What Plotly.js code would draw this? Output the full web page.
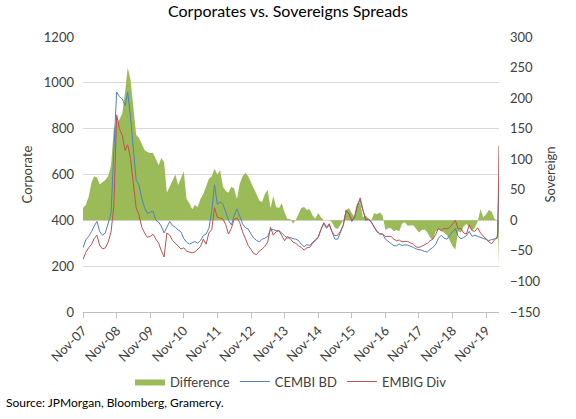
<!DOCTYPE html>
<html>
<head>
<meta charset="utf-8">
<script src="https://cdn.plot.ly/plotly-3.0.1.min.js"></script>
<style>html,body{margin:0;padding:0;background:#fff;}#chart{width:576px;height:419px;}</style>
</head>
<body>
<div id="chart"></div>
<script>
// Monthly readings from Nov-07 (first of month) through Mar-20, then daily tail of the Mar-2020 spike
const startYear = 2007, startMonth = 11;
const tailDates = ['2020-03-06', '2020-03-12', '2020-03-16', '2020-03-18', '2020-03-20'];

// CEMBI BD (left axis, Corporate)
const cembi = [
  280, 315, 330, 350, 375, 395, 350, 335, 345, 385,
  430, 700, 960, 940, 930, 900, 960, 850, 720, 575,
  555, 495, 455, 430, 435, 440, 400, 392, 375, 345,
  370, 395, 378, 370, 358, 350, 320, 305, 296, 302,
  308, 300, 312, 333, 340, 365, 440, 555, 470, 480,
  470, 435, 400, 380, 420, 450, 420, 385, 368, 362,
  340, 322, 312, 306, 318, 322, 330, 360, 360, 355,
  355, 342, 333, 322, 325, 320, 318, 312, 296, 285,
  294, 290, 305, 315, 326, 360, 385, 365, 380, 345,
  318, 318, 345, 378, 440, 430, 400, 415, 470, 488,
  445, 400, 405, 395, 370, 350, 342, 340, 318, 308,
  300, 289, 289, 296, 290, 293, 292, 288, 282, 275,
  274, 270, 264, 262, 273, 282, 295, 322, 335, 322,
  318, 333, 352, 365, 330, 320, 325, 333, 352, 330,
  335, 330, 325, 322, 318, 312, 316, 320, 322,
  345, 420, 500, 540, 470
];

// EMBIG Div (left axis, Corporate)
const embig = [
  229, 260, 280, 295, 320, 335, 290, 275, 280, 305,
  350, 460, 860, 800, 770, 705, 730, 670, 560, 455,
  425, 370, 345, 326, 330, 339, 318, 300, 268, 240,
  345, 335, 312, 300, 290, 275, 280, 265, 262, 258,
  262, 275, 285, 318, 296, 345, 360, 455, 413, 410,
  406, 380, 340, 365, 405, 410, 390, 350, 315, 290,
  272, 255, 250, 267, 274, 287, 305, 370, 335, 350,
  355, 333, 311, 330, 320, 304, 300, 289, 282, 270,
  280, 282, 300, 311, 326, 360, 390, 370, 385, 350,
  333, 335, 352, 380, 445, 428, 395, 412, 462, 498,
  445, 405, 404, 391, 370, 352, 340, 340, 330, 330,
  330, 318, 311, 314, 306, 308, 308, 302, 296, 284,
  282, 287, 292, 300, 311, 318, 338, 365, 355, 365,
  362, 369, 384, 400, 362, 365, 345, 340, 380, 355,
  352, 367, 345, 330, 318, 306, 298, 315, 330,
  360, 450, 580, 680, 725
];

// Difference (right axis, Sovereign)
const difference = [
  20, 25, 38, 62, 72, 70, 59, 62, 66, 72,
  90, 150, 160, 165, 175, 210, 250, 230, 180, 140,
  135, 125, 115, 112, 110, 110, 100, 90, 102, 95,
  45, 55, 65, 75, 58, 68, 80, 35, 28, 18,
  25, 22, 35, 43, 54, 68, 72, 84, 75, 82,
  55, 48, 45, 55, 52, 35, 60, 72, 78, 72,
  62, 52, 42, 32, 30, 43, 50, 20, 40, 22,
  20, 28, 13, 2, 2, -5, 0, 10, 20, 22,
  17, 18, 8, 3, 12, 5, 0, 0, 0, -3,
  -12, -14, -8, 0, 17, 20, 12, 5, 25, 30,
  5, 8, 3, 0, 12, 10, 13, 8, -16, -13,
  -13, -18, -16, -18, -5, -3, -9, -9, -8, -14,
  -20, -16, -15, -20, -28, -32, -18, -15, -17, -20,
  -24, -33, -42, -48, -18, -20, -10, -6, -11, -17,
  -12, -2, 18, 5, 10, 17, 14, 2, 0,
  -8, -25, -50, -70, -75
];

const nMonthly = cembi.length - tailDates.length;
const dates = [];
for (let i = 0; i < nMonthly; i++) {
  const t = (startMonth - 1) + i;
  const y = startYear + Math.floor(t / 12);
  const m = (t % 12) + 1;
  dates.push(y + '-' + String(m).padStart(2, '0') + '-01');
}
tailDates.forEach(d => dates.push(d));

const FONT = 'Lato, "Open Sans", sans-serif';
const txt = '#404040';

// Sovereign (right) is the base axis so that the area is drawn beneath the lines,
// which sit on the overlaying Corporate (left) axis.
const traces = [
  {x: dates, y: difference, name: 'Difference', type: 'scatter', mode: 'lines',
   yaxis: 'y', fill: 'tozeroy', fillcolor: '#9BBB59', line: {width: 0, color: '#9BBB59'}},
  {x: dates, y: cembi, name: 'CEMBI BD', type: 'scatter', mode: 'lines', yaxis: 'y2',
   line: {width: 1, color: '#4F81BD'}},
  {x: dates, y: embig, name: 'EMBIG Div', type: 'scatter', mode: 'lines', yaxis: 'y2',
   line: {width: 1, color: '#C0504D'}}
];

const layout = {
  width: 576, height: 419,
  margin: {l: 83, r: 77, t: 37, b: 107},
  paper_bgcolor: '#fff', plot_bgcolor: '#fff',
  font: {family: FONT, size: 13, color: txt},
  title: {text: 'Corporates vs. Sovereigns Spreads', x: 0.5, xanchor: 'center',
          y: 0.972, yanchor: 'middle', font: {family: FONT, size: 16, color: '#000'}},
  showlegend: true,
  legend: {orientation: 'h', x: 0.5, xanchor: 'center', y: -0.253, yanchor: 'middle',
           font: {family: FONT, size: 13, color: txt}, itemwidth: 30, traceorder: 'normal'},
  xaxis: {type: 'date', range: ['2007-11-01', '2020-03-20'], tick0: '2007-11-01', dtick: 'M12',
          tickformat: '%b-%y', tickangle: -45, ticks: 'outside', ticklen: 5, tickcolor: '#BFBFBF',
          showline: true, linecolor: '#BFBFBF', linewidth: 1, showgrid: false, zeroline: false,
          tickfont: {family: FONT, size: 13, color: txt}},
  yaxis: {range: [-150, 300], dtick: 50, tick0: 0, side: 'right',
          showgrid: false, zeroline: false, showline: false, ticks: '', ticklabelstandoff: 10,
          title: {text: 'Sovereign', standoff: 6, font: {family: FONT, size: 13, color: txt}},
          tickfont: {family: FONT, size: 13, color: txt}},
  yaxis2: {range: [0, 1200], dtick: 200, tick0: 0, overlaying: 'y', side: 'left',
           showgrid: true, gridcolor: '#D9D9D9', layer: 'below traces',
           zeroline: false, showline: false, ticks: '', ticklabelstandoff: 8,
           title: {text: 'Corporate', standoff: 8, font: {family: FONT, size: 13, color: txt}},
           tickfont: {family: FONT, size: 13, color: txt}},
  annotations: [{text: 'Source: JPMorgan, Bloomberg, Gramercy.', xref: 'paper', yref: 'paper',
                 x: -0.19, xanchor: 'left', y: -0.33, yanchor: 'middle', showarrow: false,
                 font: {family: FONT, size: 12, color: '#000'}}]
};

Plotly.newPlot('chart', traces, layout, {displayModeBar: false, staticPlot: true});
</script>
</body>
</html>
